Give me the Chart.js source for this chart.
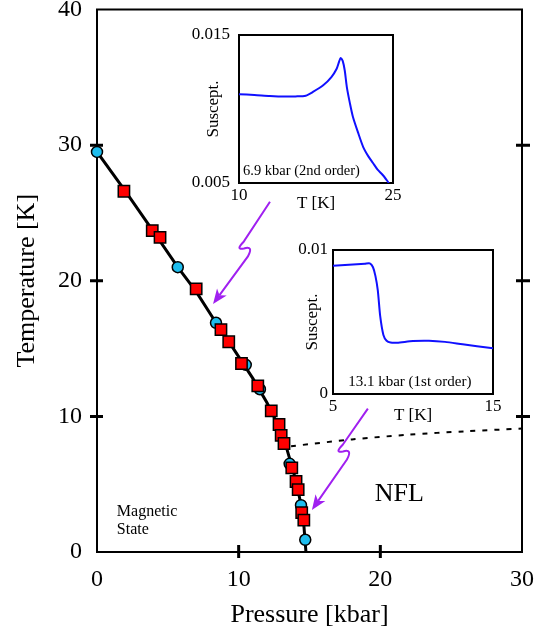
<!DOCTYPE html>
<html>
<head>
<meta charset="utf-8">
<script src="https://cdn.jsdelivr.net/npm/chart.js@4.4.0/dist/chart.umd.min.js"></script>
<style>
  html, body { margin: 0; padding: 0; background: #fff; }
  #wrap { position: relative; width: 535px; height: 636px; }
  canvas { position: absolute; }
</style>
</head>
<body>
<div id="wrap">
  <canvas id="main" width="535" height="636" style="left:0;top:0"></canvas>
  <canvas id="in1" width="240" height="205" style="left:180px;top:15px"></canvas>
  <canvas id="in2" width="225" height="195" style="left:285px;top:235px"></canvas>
</div>
<script>
// phase diagram points (pressure kbar, temperature K)
const squareP = [1.9, 3.9, 4.45, 7.0, 8.75, 9.3, 10.2, 11.35, 12.3, 12.85, 13.0, 13.2, 13.75, 14.05, 14.2, 14.45, 14.6];
const squareT = [26.6, 23.7, 23.2, 19.4, 16.4, 15.5, 13.9, 12.25, 10.4, 9.4, 8.6, 8.0, 6.2, 5.2, 4.6, 2.9, 2.35];
const circleP = [0, 5.7, 8.4, 10.5, 11.5, 13.6, 14.4, 14.7];
const circleT = [29.5, 21.0, 16.9, 13.8, 12.0, 6.5, 3.45, 0.9];
// transition line and dotted crossover line
const lineP = [0, 2, 4, 5.7, 7, 8.4, 9.5, 11, 12, 12.8, 13.4, 13.9, 14.3, 14.6, 14.75];
const lineT = [29.5, 26.6, 23.6, 21.0, 19.2, 16.9, 15.2, 12.8, 11.0, 9.3, 7.6, 5.8, 4.0, 2.0, 0];
const dotP = [13.7, 18, 22, 26, 30];
const dotT = [7.8, 8.3, 8.65, 8.9, 9.1];
// axis ticks
const xTicks = [0, 10, 20, 30];
const yTicks = [0, 10, 20, 30, 40];

// inset 1: 6.9 kbar
const in1T = [10, 11.5, 13, 14.5, 15.5, 16.5, 17.2, 18.2, 19.0, 19.5, 19.75, 19.9, 20.1, 20.3, 20.5, 20.8, 21.1, 21.6, 22.1, 22.6, 23.05, 23.5, 24.0, 24.6];
const in1S = [0.01100, 0.01095, 0.01088, 0.01084, 0.01085, 0.0109, 0.01115, 0.0116, 0.01216, 0.0127, 0.01320, 0.01345, 0.01325, 0.0126, 0.0115, 0.0104, 0.00946, 0.0084, 0.00743, 0.0068, 0.00635, 0.0059, 0.00554, 0.0050];
// inset 2: 13.1 kbar
const in2T = [5, 6, 7, 7.3, 7.5, 7.65, 7.8, 7.95, 8.15, 8.35, 8.6, 9.0, 10.0, 11.0, 12.0, 13.1, 14.0, 15.0];
const in2S = [0.0089, 0.00898, 0.00905, 0.00907, 0.0088, 0.0082, 0.0072, 0.0054, 0.0041, 0.0037, 0.00357, 0.00356, 0.00368, 0.0037, 0.00362, 0.00345, 0.00332, 0.00317];

const serif = "'Liberation Serif', 'DejaVu Serif', serif";
const purple = '#a020f0';

const pts = (xs, ys) => xs.map((v, i) => ({ x: v, y: ys[i] }));

// box around the plot area, plus the crossing tick marks
const framePlugin = {
  id: 'frame',
  beforeDatasetsDraw(chart, args, opts) {
    const { ctx, chartArea: a, scales: { x, y } } = chart;
    ctx.save();
    ctx.strokeStyle = '#000';
    ctx.lineWidth = opts.width || 2;
    ctx.strokeRect(a.left, a.top, a.right - a.left, a.bottom - a.top);
    ctx.lineWidth = 3;
    ctx.beginPath();
    (opts.xTicks || []).forEach(v => {
      const px = x.getPixelForValue(v);
      ctx.moveTo(px, a.bottom - 7); ctx.lineTo(px, a.bottom + 6);
    });
    (opts.yTicks || []).forEach(v => {
      const py = y.getPixelForValue(v);
      ctx.moveTo(a.left - 7, py); ctx.lineTo(a.left + 6, py);
      ctx.moveTo(a.right - 6, py); ctx.lineTo(a.right + 8, py);
    });
    ctx.stroke();
    ctx.restore();
  }
};

// free text placed in data coordinates
const notesPlugin = {
  id: 'notes',
  afterDatasetsDraw(chart, args, opts) {
    const { ctx, scales: { x, y } } = chart;
    ctx.save();
    ctx.fillStyle = '#000';
    ctx.textBaseline = 'middle';
    (opts.items || []).forEach(n => {
      ctx.font = n.size + 'px ' + serif;
      ctx.textAlign = n.align || 'left';
      ctx.fillText(n.text, x.getPixelForValue(n.x), y.getPixelForValue(n.y));
    });
    ctx.restore();
  }
};

// purple arrows with a little zigzag
const arrowPlugin = {
  id: 'arrows',
  afterDatasetsDraw(chart, args, opts) {
    const { ctx, scales: { x, y } } = chart;
    ctx.save();
    ctx.strokeStyle = purple;
    ctx.fillStyle = purple;
    ctx.lineWidth = 2;
    (opts.items || []).forEach(ar => {
      const sx = x.getPixelForValue(ar.from[0]), sy = y.getPixelForValue(ar.from[1]);
      const ax = x.getPixelForValue(ar.kink[0]), ay = y.getPixelForValue(ar.kink[1]);
      const tx = x.getPixelForValue(ar.to[0]), ty = y.getPixelForValue(ar.to[1]);
      const bx = ax + 4, by = ay + 15;
      const ang = Math.atan2(ty - by, tx - bx);
      const len = 15, half = 6;
      const nx = tx - Math.cos(ang) * (len - 4), ny = ty - Math.sin(ang) * (len - 4);
      ctx.beginPath();
      ctx.moveTo(sx, sy);
      ctx.lineTo(ax, ay);
      ctx.quadraticCurveTo(ax - 9, ay + 9, ax, ay + 7);
      ctx.quadraticCurveTo(ax + 10, ay + 4, bx, by);
      ctx.lineTo(nx, ny);
      ctx.stroke();
      const cx = tx - Math.cos(ang) * len, cy = ty - Math.sin(ang) * len;
      ctx.beginPath();
      ctx.moveTo(tx, ty);
      ctx.lineTo(cx + Math.sin(ang) * half, cy - Math.cos(ang) * half);
      ctx.lineTo(nx, ny);
      ctx.lineTo(cx - Math.sin(ang) * half, cy + Math.cos(ang) * half);
      ctx.closePath();
      ctx.fill();
    });
    ctx.restore();
  }
};

new Chart(document.getElementById('main'), {
  type: 'scatter',
  data: {
    datasets: [
      {
        data: pts(squareP, squareT),
        pointStyle: 'rect',
        pointRadius: 8,
        backgroundColor: '#ff0000',
        borderColor: '#000',
        borderWidth: 1.5,
        clip: false,
        order: 0
      },
      {
        data: pts(circleP, circleT),
        pointStyle: 'circle',
        pointRadius: 5.5,
        backgroundColor: '#1ebdee',
        borderColor: '#000',
        borderWidth: 1.5,
        clip: false,
        order: 1
      },
      {
        data: pts(lineP, lineT),
        showLine: true,
        pointRadius: 0,
        borderColor: '#000',
        borderWidth: 3,
        tension: 0,
        order: 2
      },
      {
        data: pts(dotP, dotT),
        showLine: true,
        pointRadius: 0,
        borderColor: '#000',
        borderWidth: 2,
        borderDash: [5, 7],
        tension: 0.3,
        order: 3
      }
    ]
  },
  options: {
    responsive: false,
    animation: false,
    layout: { padding: { top: 8, right: 13, left: 0, bottom: 0 } },
    plugins: {
      legend: { display: false },
      tooltip: { enabled: false },
      frame: { width: 2, xTicks: [10, 20], yTicks: [10, 20, 30] },
      notes: {
        items: [
          { text: 'Magnetic', x: 1.4, y: 3.0, size: 16 },
          { text: 'State', x: 1.4, y: 1.65, size: 16 },
          { text: 'NFL', x: 19.6, y: 4.3, size: 26 }
        ]
      },
      arrows: {
        items: [
          { from: [12.21, 25.83], kink: [10.37, 22.9], to: [8.19, 18.28] },
          { from: [19.12, 10.57], kink: [17.36, 7.93], to: [15.17, 3.1] }
        ]
      }
    },
    scales: {
      x: {
        type: 'linear',
        min: 0,
        max: 30,
        afterBuildTicks: s => { s.ticks = xTicks.map(v => ({ value: v })); },
        ticks: { color: '#000', font: { family: serif, size: 24 }, padding: 13, maxRotation: 0 },
        grid: { display: false, drawTicks: false },
        border: { display: false },
        title: {
          display: true, text: 'Pressure [kbar]', color: '#000',
          font: { family: serif, size: 26 }, padding: { top: 0, bottom: 5 }
        },
        afterFit: s => { s.height = 84; s.paddingLeft = 0; s.paddingRight = 0; }
      },
      y: {
        type: 'linear',
        min: 0,
        max: 40,
        afterBuildTicks: s => { s.ticks = yTicks.map(v => ({ value: v })); },
        ticks: { color: '#000', font: { family: serif, size: 24 }, padding: 15 },
        grid: { display: false, drawTicks: false },
        border: { display: false },
        title: {
          display: true, text: 'Temperature [K]', color: '#000',
          font: { family: serif, size: 26 }, padding: { top: 12, bottom: 0 }
        },
        afterFit: s => { s.width = 97; s.paddingTop = 0; s.paddingBottom = 0; }
      }
    }
  },
  plugins: [framePlugin, notesPlugin, arrowPlugin]
});

function inset(id, xs, ys, cfg) {
  new Chart(document.getElementById(id), {
    type: 'scatter',
    data: {
      datasets: [{
        data: pts(xs, ys),
        showLine: true,
        pointRadius: 0,
        borderColor: '#1010ff',
        borderWidth: 2,
        tension: 0.25
      }]
    },
    options: {
      responsive: false,
      animation: false,
      layout: { padding: cfg.pad },
      plugins: {
        legend: { display: false },
        tooltip: { enabled: false },
        frame: { width: 2 },
        notes: { items: [cfg.note] }
      },
      scales: {
        x: {
          type: 'linear',
          min: cfg.xTicks[0],
          max: cfg.xTicks[1],
          afterBuildTicks: s => { s.ticks = cfg.xTicks.map(v => ({ value: v })); },
          ticks: { color: '#000', font: { family: serif, size: 17 }, padding: cfg.xPad, maxRotation: 0 },
          grid: { display: false, drawTicks: false },
          border: { display: false },
          title: {
            display: true, text: 'T [K]', color: '#000',
            font: { family: serif, size: 17 }, padding: { top: 0, bottom: cfg.xTitlePad }
          },
          afterFit: s => { s.height = cfg.xH; s.paddingLeft = 0; s.paddingRight = 0; }
        },
        y: {
          type: 'linear',
          min: cfg.yTicks[0],
          max: cfg.yTicks[1],
          afterBuildTicks: s => { s.ticks = cfg.yTicks.map(v => ({ value: v })); },
          ticks: { color: '#000', font: { family: serif, size: 17 }, padding: cfg.yPad, callback: cfg.fmt },
          grid: { display: false, drawTicks: false },
          border: { display: false },
          title: {
            display: true, text: 'Suscept.', color: '#000',
            font: { family: serif, size: 17 }, padding: { top: cfg.yTitlePad, bottom: 0 }
          },
          afterFit: s => { s.width = cfg.yW; s.paddingTop = 0; s.paddingBottom = 0; }
        }
      }
    },
    plugins: [framePlugin, notesPlugin]
  });
}

inset('in1', in1T, in1S, {
  pad: { top: 20, right: 27, left: 0, bottom: 0 },
  xTicks: [10, 25], yTicks: [0.005, 0.015],
  fmt: v => v.toFixed(3),
  xPad: 2, xTitlePad: 6, xH: 37,
  yPad: 9, yTitlePad: 23, yW: 59,
  note: { text: '6.9 kbar (2nd order)', x: 10.4, y: 0.0058, size: 14.5 }
});

inset('in2', in2T, in2S, {
  pad: { top: 15, right: 17, left: 0, bottom: 0 },
  xTicks: [5, 15], yTicks: [0, 0.01],
  fmt: v => (v === 0 ? '0' : v.toFixed(2)),
  xPad: 2, xTitlePad: 4, xH: 36,
  yPad: 5, yTitlePad: 17, yW: 48,
  note: { text: '13.1 kbar (1st order)', x: 9.8, y: 0.00083, size: 15, align: 'center' }
});
</script>
</body>
</html>
